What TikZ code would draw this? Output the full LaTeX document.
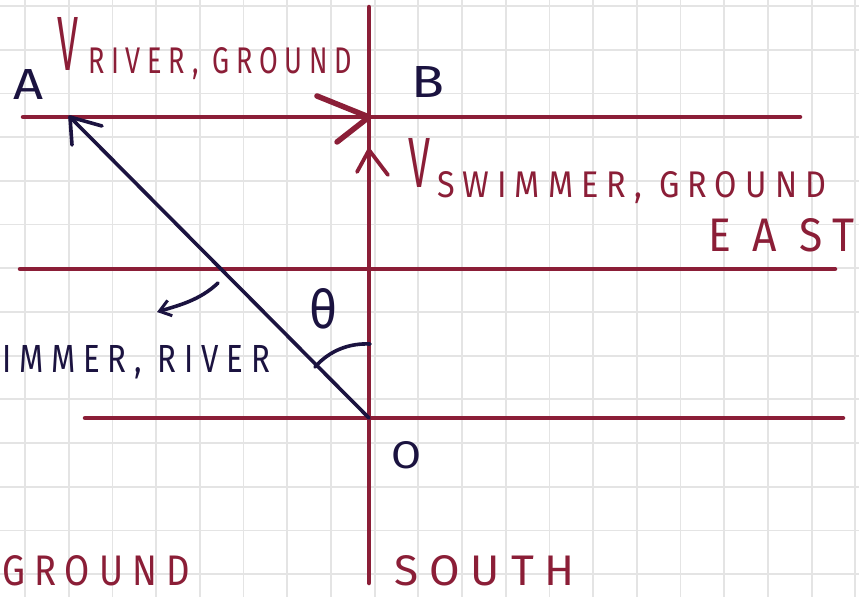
\documentclass[tikz,border=0pt]{standalone}
\usepackage{fontspec}
\setmainfont{Fira Sans}
\usepackage{graphicx}
\usetikzlibrary{arrows.meta}
\definecolor{wine}{HTML}{8B1E37}
\definecolor{ink}{HTML}{1B1340}
\definecolor{gridgray}{HTML}{E4E4E4}
\newcommand{\fitlabel}[3]{\resizebox{#1pt}{#2pt}{\addfontfeatures{LetterSpace=25}#3}}
\newcommand{\fitletter}[3]{\resizebox{#1pt}{#2pt}{#3}}
\begin{document}
\begin{tikzpicture}[x=1pt,y=-1pt,
  redline/.style={draw=wine,line width=4.5pt,line cap=round,line join=round},
  inkline/.style={draw=ink,line width=3.6pt,line cap=round,line join=round},
  lab/.style={inner sep=0pt,outer sep=0pt,anchor=north west,text=wine},
  inklab/.style={inner sep=0pt,outer sep=0pt,anchor=north west,text=ink},
]
\useasboundingbox (0,0) rectangle (859,597);
\clip (0,0) rectangle (859,597);
\fill[white] (0,0) rectangle (859,597);
\foreach \i in {0,...,19} \draw[gridgray,line width=1.8pt] ({25+43.7*\i},0) -- ({25+43.7*\i},597);
\foreach \i in {0,...,13} \draw[gridgray,line width=1.8pt] (0,{6+43.7*\i}) -- (859,{6+43.7*\i});

% reference points
\coordinate (O) at (369,418);
\coordinate (A) at (70,117);
\coordinate (B) at (369,117);
\coordinate (l1w) at (23,117);
\coordinate (l1e) at (800,117);
\coordinate (l2w) at (20,269);
\coordinate (l2e) at (835,269);
\coordinate (l3w) at (85,418);
\coordinate (l3e) at (843,418);
\coordinate (vn) at (369,7);
\coordinate (vs) at (369,583);

% red lines
\draw[redline] (l1w) -- (l1e);
\draw[redline] (l2w) -- (l2e);
\draw[redline] (l3w) -- (l3e);
\draw[redline] (vn) -- (vs);

% arrowheads of the red vectors
\coordinate (rbtail) at (317,96);
\coordinate (rblow) at (337,142);
\draw[redline,line width=5.5pt] (rbtail) -- (B) -- (rblow);
\coordinate (chl) at (357,172);
\coordinate (chtip) at (369,150);
\coordinate (chr) at (388,175);
\draw[redline,line width=3.8pt] (chl) -- (chtip) -- (chr);

% swimmer vector relative to river
\draw[inkline] (O) -- (A);
\coordinate (ahd) at (72,145);
\coordinate (ahr) at (102,126);
\draw[inkline] (ahd) -- (A) -- (ahr);

% pointer arrow
\coordinate (pa) at (218,283);
\coordinate (pb) at (157,312);
\draw[inkline,-{Straight Barb[length=11pt,width=16pt,line width=3pt]}] (pa) .. controls (200,300) and (180,305) .. (pb);

% angle arc
\coordinate (arc1) at (315,367);
\coordinate (arc2) at (370,344);
\draw[inkline] (arc1) .. controls (330,350) and (350,343) .. (arc2);

% labels
\node[lab] (vbig) at (57,17) {\fitletter{21}{53}{V}};
\node[lab] (vrgsub) at (88,47) {\fitlabel{264}{26}{RIVER, GROUND}};
\node[lab] (vsw) at (408,138) {\fitletter{22}{49}{V}};
\node[lab] (vswsub) at (437,171) {\fitlabel{389}{26}{SWIMMER, GROUND}};
\node[lab] (east) at (708,218) {\fitlabel{146}{33}{E A ST}};
\node[inklab] (swr) at (2,345) {\fitlabel{268}{27}{IMMER, RIVER}};
\node[lab] (ground) at (2,555) {\fitlabel{188}{30}{GROUND}};
\node[lab] (south) at (394,555) {\fitlabel{181}{30}{SOUTH}};
\node[inklab] (la) at (13,69) {\fitletter{30}{30}{A}};
\node[inklab] (lb) at (411,66) {\fitletter{33}{31}{B}};
\node[inklab] (lo) at (391,441) {\fitletter{30}{27}{O}};
\node[inklab] (lth) at (309,288) {\fitletter{28}{40}{θ}};
\end{tikzpicture}
\end{document}
